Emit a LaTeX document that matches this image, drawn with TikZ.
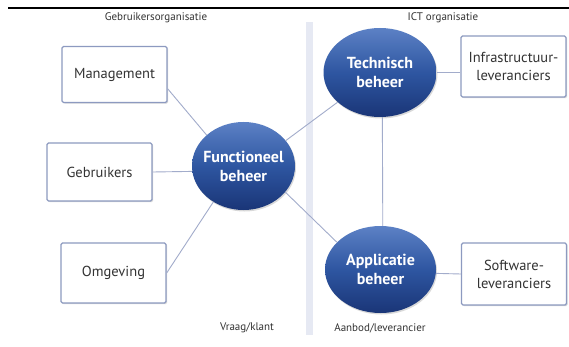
\documentclass[tikz,border=0pt]{standalone}
\usepackage{fontspec}
\setmainfont{PT Sans}
\usetikzlibrary{shapes.geometric,shadows}
\definecolor{boxline}{HTML}{8D9AC0}
\definecolor{conn}{HTML}{A2ACCB}
\definecolor{band}{HTML}{E6E9F3}
\definecolor{blobtop}{HTML}{5C81C5}
\definecolor{blobmid}{HTML}{2E56A1}
\definecolor{blobbot}{HTML}{1A3577}
\definecolor{txt}{HTML}{333333}
\begin{document}
\begin{tikzpicture}[x=1pt,y=-1pt,
  box/.style={draw=boxline,line width=1.3pt,fill=white,rounded corners=1.5pt,
    minimum width=105pt,inner sep=0pt,align=center,
    font=\fontsize{14.5}{18}\selectfont,text=txt,
    drop shadow={shadow xshift=1.2pt,shadow yshift=-1.2pt,opacity=0.15,fill=black}},
  bubble/.style={ellipse,inner sep=0pt,draw=none,
    top color=blobtop,bottom color=blobbot,middle color=blobmid,
    drop shadow={shadow xshift=1pt,shadow yshift=-1.5pt,opacity=0.15,fill=black}},
  btext/.style={align=center,text=white,inner sep=0pt,
    font=\fontsize{16}{19}\selectfont\bfseries},
  small/.style={inner sep=0pt,text=txt,font=\fontsize{11}{13}\selectfont},
  conn/.style={draw=conn,line width=0.9pt}
]
\useasboundingbox (0,0) rectangle (569,347);
\fill[white] (0,0) rectangle (569,347);
\draw[line width=2.6pt] (8,8) -- (569,8);
\fill[band] (306,22) rectangle (313,335);

\node[box,minimum height=56pt] (mgmt) at (114.5,74.5) {Management};
\node[box,minimum height=58pt] (gebr) at (99.5,172) {Gebruikers};
\node[box,minimum height=60pt] (omg) at (113.5,273) {Omgeving};
\node[box,minimum height=61pt] (infra) at (513.5,66.5) {Infrastructuur-\\leveranciers};
\node[box,minimum height=62pt] (soft) at (514,274) {Software-\\leveranciers};

\node[bubble,minimum width=103pt,minimum height=88pt,
  label={[btext]center:Functioneel\\beheer}] (func) at (243.5,166) {};
\node[bubble,minimum width=113pt,minimum height=89pt,
  label={[btext]center:Technisch\\beheer}] (tech) at (380,72.5) {};
\node[bubble,minimum width=111pt,minimum height=87pt,
  label={[btext]center:Applicatie\\beheer}] (app) at (380.5,269.5) {};

\draw[conn] (mgmt.-15) -- (func.140);
\draw[conn] (gebr.east) -- (func.186);
\draw[conn] (omg.east) -- (func.230);
\draw[conn] (func.31) -- (tech.215);
\draw[conn] (func.-32) -- (app.148);
\draw[conn] (tech.-87) -- (app.87);
\draw[conn] (tech.east) -- (tech.east -| infra.west);
\draw[conn] (app.-4) -- (soft.west);

\node[small] (lgeb) at (156,18) {Gebruikersorganisatie};
\node[small] (lict) at (443,18) {ICT organisatie};
\node[small] (lvr) at (247,328) {Vraag/klant};
\node[small] (laa) at (380,328) {Aanbod/leverancier};
\end{tikzpicture}
\end{document}
